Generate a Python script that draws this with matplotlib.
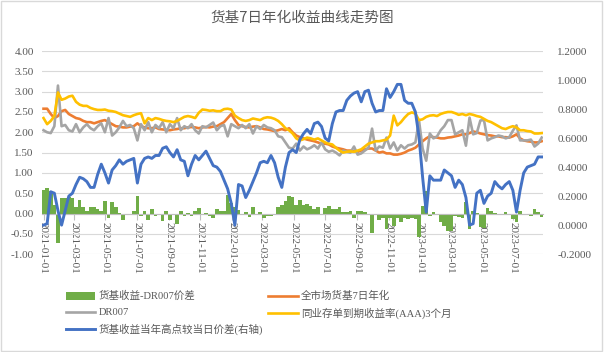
import numpy as np
import pandas as pd
import matplotlib
matplotlib.use('Agg')
import matplotlib.pyplot as plt
import matplotlib.dates as mdates
from matplotlib.patches import Rectangle

plt.rcParams['font.family'] = ['Liberation Serif', 'Noto Sans CJK SC']

# weekly observations, Fridays from 2021-01-01
dates = pd.date_range('2021-01-01', periods=139, freq='7D')

# 全市场货基7日年化
mmf_7d = [2.58, 2.58, 2.45, 2.35, 2.40, 2.52, 2.55, 2.45, 2.40, 2.35,
          2.33, 2.28, 2.25, 2.25, 2.22, 2.25, 2.28, 2.30, 2.25, 2.20,
          2.15, 2.14, 2.12, 2.12, 2.14, 2.15, 2.22, 2.15, 2.12, 2.10,
          2.10, 2.12, 2.08, 2.07, 2.06, 2.05, 2.07, 2.08, 2.10, 2.10,
          2.12, 2.13, 2.12, 2.10, 2.12, 2.13, 2.12, 2.14, 2.15, 2.20,
          2.25, 2.35, 2.45, 2.30, 2.18, 2.15, 2.13, 2.12, 2.14, 2.15,
          2.12, 2.08, 2.07, 2.05, 2.03, 2.05, 2.08, 2.05, 2.10, 2.00,
          1.92, 1.88, 1.85, 1.82, 1.80, 1.78, 1.75, 1.72, 1.72, 1.70,
          1.65, 1.62, 1.60, 1.58, 1.55, 1.55, 1.53, 1.52, 1.55, 1.58,
          1.60, 1.60, 1.55, 1.50, 1.52, 1.48, 1.48, 1.45, 1.45, 1.47,
          1.50, 1.55, 1.58, 1.62, 1.70, 1.78, 1.85, 1.90, 1.88, 1.87,
          1.85, 1.85, 1.87, 1.88, 1.90, 1.92, 1.95, 1.95, 1.98, 2.02,
          2.00, 1.97, 1.95, 1.93, 1.92, 1.90, 1.90, 1.88, 1.88, 1.87,
          1.90, 1.95, 1.85, 1.80, 1.78, 1.77, 1.75, 1.75, 1.78]

# DR007
dr007 = [2.05, 2.00, 1.98, 2.15, 3.15, 2.15, 2.18, 2.05, 2.02, 2.20,
         2.00, 2.12, 2.20, 2.10, 2.05, 2.15, 2.22, 2.00, 2.35, 1.92,
         2.00, 2.12, 2.28, 2.15, 2.18, 2.10, 1.80, 2.20, 2.05, 2.25,
         2.00, 2.18, 2.10, 2.25, 2.00, 2.20, 2.10, 2.35, 2.05, 2.15,
         2.10, 2.20, 2.05, 1.97, 2.15, 2.12, 2.18, 2.24, 2.05, 2.15,
         2.18, 1.90, 2.20, 2.15, 2.10, 2.18, 2.10, 2.20, 1.97, 2.15,
         2.08, 2.18, 2.12, 2.10, 2.05, 1.90, 1.88, 1.75, 1.62, 1.60,
         1.72, 1.55, 1.65, 1.58, 1.62, 1.68, 1.60, 1.75, 1.58, 1.52,
         1.55, 1.50, 1.43, 1.55, 1.52, 1.50, 1.65, 1.45, 1.48, 1.55,
         1.62, 2.09, 1.55, 1.65, 1.62, 1.87, 1.60, 1.75, 1.55, 1.68,
         1.60, 1.68, 1.70, 1.75, 2.29, 1.60, 1.30, 1.97, 1.85, 1.90,
         2.05, 2.15, 2.30, 2.30, 1.95, 2.00, 2.05, 1.67, 2.36, 1.95,
         1.98, 2.29, 2.30, 1.80, 1.85, 1.88, 1.92, 1.90, 1.85, 1.88,
         2.04, 2.17, 1.80, 1.80, 1.80, 1.82, 1.65, 1.72, 1.87]

# 同业存单到期收益率(AAA)3个月
ncd_3m = [2.35, 2.20, 2.28, 2.40, 2.98, 2.80, 2.83, 2.88, 2.90, 2.75,
          2.68, 2.65, 2.65, 2.60, 2.57, 2.55, 2.55, 2.56, 2.53, 2.52,
          2.50, 2.46, 2.42, 2.40, 2.38, 2.42, 2.45, 2.47, 2.22, 2.35,
          2.30, 2.35, 2.33, 2.30, 2.28, 2.27, 2.25, 2.28, 2.33, 2.38,
          2.40, 2.38, 2.35, 2.48, 2.56, 2.55, 2.53, 2.54, 2.52, 2.52,
          2.57, 2.58, 2.56, 2.41, 2.35, 2.30, 2.28, 2.30, 2.34, 2.32,
          2.30, 2.35, 2.37, 2.36, 2.33, 2.28, 2.20, 2.10, 2.05, 1.97,
          1.85, 1.80, 1.83, 1.87, 1.85, 1.82, 1.85, 1.80, 1.75, 1.72,
          1.70, 1.62, 1.55, 1.50, 1.52, 1.53, 1.52, 1.55, 1.58, 1.65,
          1.72, 1.75, 1.78, 1.78, 1.80, 1.82, 1.92, 2.41, 2.17, 2.25,
          2.36, 2.45, 2.49, 2.46, 2.30, 2.32, 2.38, 2.41, 2.42, 2.40,
          2.45, 2.48, 2.50, 2.50, 2.47, 2.43, 2.45, 2.42, 2.45, 2.43,
          2.40, 2.38, 2.33, 2.28, 2.25, 2.20, 2.15, 2.10, 2.08, 2.12,
          2.15, 2.12, 2.05, 2.05, 2.03, 2.02, 1.97, 1.97, 1.98]

# 货基收益-DR007价差
spread = [0.58, 0.62, 0.55, 0.20, -0.72, 0.37, 0.37, 0.40, 0.38, 0.15,
          0.33, 0.16, 0.05, 0.15, 0.17, 0.10, 0.06, 0.30, -0.10, 0.28,
          0.15, 0.02, -0.16, -0.03, -0.04, 0.05, 0.42, -0.05, 0.07, -0.15,
          0.10, -0.06, -0.02, -0.18, 0.06, -0.15, -0.03, -0.27, 0.05, -0.05,
          0.02, -0.07, 0.07, 0.13, -0.03, 0.01, -0.06, -0.10, 0.10, 0.05,
          0.07, 0.45, 0.25, 0.15, 0.08, -0.03, 0.03, -0.08, 0.17, 0.00,
          0.04, -0.10, -0.05, -0.05, -0.02, 0.15, 0.20, 0.30, 0.42, 0.40,
          0.20, 0.33, 0.20, 0.24, 0.18, 0.10, 0.15, -0.03, 0.14, 0.18,
          0.10, 0.12, 0.17, 0.03, 0.03, 0.05, -0.12, 0.07, 0.07, 0.03,
          -0.02, -0.49, 0.00, -0.15, -0.10, -0.39, -0.12, -0.30, -0.10, -0.21,
          -0.10, -0.13, -0.12, -0.13, -0.59, 0.18, 0.55, -0.07, 0.03, -0.03,
          -0.20, -0.30, -0.43, -0.42, -0.05, -0.08, -0.10, 0.28, -0.38, 0.07,
          0.02, -0.32, -0.35, 0.13, 0.07, 0.02, -0.02, -0.02, 0.03, -0.01,
          -0.14, -0.22, 0.05, 0.00, -0.02, -0.05, 0.10, 0.03, -0.09]

# 货基收益当年高点较当日价差(右轴)
gap_high = [0.00, 0.01, 0.23, 0.22, 0.10, 0.00, 0.10, 0.20, 0.22, 0.28,
            0.33, 0.32, 0.30, 0.26, 0.26, 0.35, 0.42, 0.36, 0.29, 0.38,
            0.41, 0.45, 0.42, 0.44, 0.45, 0.46, 0.29, 0.42, 0.46, 0.47,
            0.46, 0.48, 0.48, 0.53, 0.54, 0.50, 0.47, 0.52, 0.45, 0.44,
            0.34, 0.42, 0.48, 0.45, 0.48, 0.51, 0.46, 0.41, 0.40, 0.37,
            0.31, 0.25, 0.15, 0.00, 0.28, 0.27, 0.19, 0.24, 0.30, 0.36,
            0.43, 0.44, 0.43, 0.48, 0.43, 0.33, 0.26, 0.40, 0.50, 0.52,
            0.50, 0.59, 0.63, 0.66, 0.63, 0.70, 0.71, 0.68, 0.60, 0.58,
            0.70, 0.78, 0.79, 0.79, 0.86, 0.89, 0.91, 0.92, 0.85, 0.92,
            0.93, 0.84, 0.78, 0.79, 0.79, 0.94, 0.88, 0.92, 0.97, 0.97,
            0.86, 0.84, 0.84, 0.78, 0.61, 0.33, 0.09, 0.34, 0.31, 0.31,
            0.31, 0.38, 0.36, 0.34, 0.26, 0.31, 0.28, 0.19, 0.00, 0.01,
            0.22, 0.24, 0.15, 0.20, 0.22, 0.30, 0.27, 0.25, 0.28, 0.30,
            0.24, 0.09, 0.24, 0.36, 0.40, 0.41, 0.42, 0.47, 0.47]

c_green = '#70ad47'
c_orange = '#ed7d31'
c_gray = '#a5a5a5'
c_yellow = '#ffc000'
c_blue = '#4472c4'
c_text = '#595959'
c_grid = '#d9d9d9'

fig = plt.figure(figsize=(6.04, 3.52), dpi=100)
ax = fig.add_axes([0.0695, 0.278, 0.83, 0.577])
ax2 = ax.twinx()

bars = ax.bar(dates, spread, width=7, color=c_green, lw=0, zorder=2, label='货基收益-DR007价差')
l1, = ax.plot(dates, mmf_7d, color=c_orange, lw=1.9, zorder=3, label='全市场货基7日年化')
l2, = ax.plot(dates, dr007, color=c_gray, lw=1.9, zorder=3, label='DR007')
l3, = ax.plot(dates, ncd_3m, color=c_yellow, lw=1.9, zorder=3, label='同业存单到期收益率(AAA)3个月')
l4, = ax2.plot(dates, gap_high, color=c_blue, lw=2.1, label='货基收益当年高点较当日价差(右轴)')

ax.set_ylim(-1, 4)
ax.set_yticks(np.arange(-1, 4.01, 0.5))
ax.yaxis.set_major_formatter(plt.FuncFormatter(lambda v, p: '%.2f' % v))
ax2.set_ylim(-0.2, 1.2)
ax2.set_yticks(np.arange(-0.2, 1.21, 0.2))
ax2.yaxis.set_major_formatter(plt.FuncFormatter(lambda v, p: '%.4f' % v))

ax.set_xlim(dates[0] - pd.Timedelta(days=3), dates[-1] + pd.Timedelta(days=3))
ax.xaxis.set_major_locator(mdates.MonthLocator(bymonth=[1, 3, 5, 7, 9, 11]))
ax.xaxis.set_major_formatter(mdates.DateFormatter('%Y-%m-%d'))

ax.grid(axis='y', color=c_grid, lw=0.8, zorder=0)
ax.set_axisbelow(True)
for a in (ax, ax2):
    for s in ['top', 'left', 'right', 'bottom']:
        a.spines[s].set_visible(False)
ax.spines['bottom'].set_visible(True)
ax.spines['bottom'].set_position(('data', 0))
ax.spines['bottom'].set_color('#bfbfbf')
ax.spines['bottom'].set_zorder(2.5)

ax.tick_params(axis='y', length=0, labelsize=8, labelcolor=c_text, pad=6)
ax2.tick_params(axis='y', length=0, labelsize=8, labelcolor=c_text, pad=10)
ax.tick_params(axis='x', length=4, color='#bfbfbf', labelsize=8, labelcolor=c_text,
               labelrotation=-90, pad=2)
for lab in ax.get_xticklabels():
    lab.set_va('top')
    lab.set_ha('center')

fig.text(0.5, 0.95, '货基7日年化收益曲线走势图', ha='center', va='center',
         fontsize=10.5, color=c_text, family=['Noto Sans CJK SC'])

leg = fig.legend([bars, l2, l4, l1, l3],
                 [bars.get_label(), l2.get_label(), l4.get_label(), l1.get_label(), l3.get_label()],
                 ncol=2, loc='upper left', bbox_to_anchor=(0.1, 0.188), frameon=False,
                 fontsize=7.6, labelcolor=c_text, handlelength=2.8, handleheight=0.75,
                 columnspacing=0.5, labelspacing=0.62, handletextpad=0.3, borderpad=0)

fig.patches.append(Rectangle((0.002, 0.003), 0.995, 0.994, transform=fig.transFigure,
                             fill=False, ec=c_grid, lw=1))

fig.savefig('out.png', dpi=100)
